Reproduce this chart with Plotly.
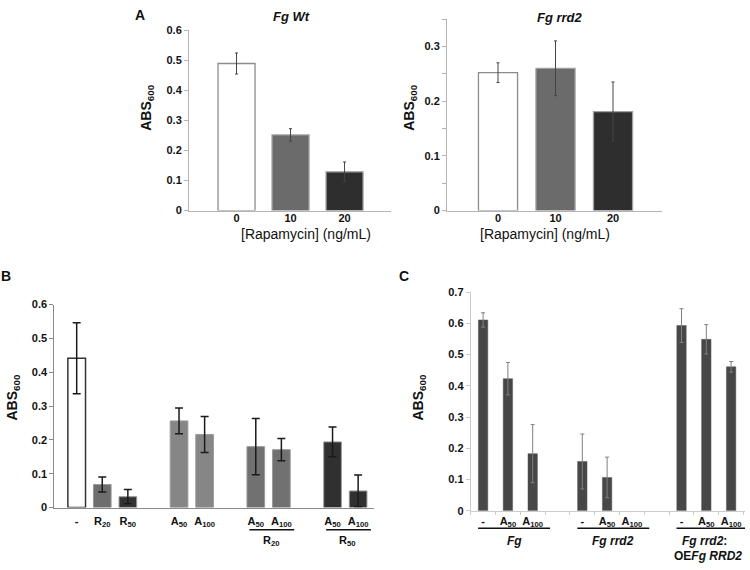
import plotly.graph_objects as go

# ---------------- data ----------------
# Panel A
a_conc = ["0", "10", "20"]
wt_vals = [0.490, 0.252, 0.129]
wt_err = [0.035, 0.021, 0.033]
rrd2_vals = [0.252, 0.260, 0.181]
rrd2_err = [0.018, 0.050, 0.054]

# Panel B
b_tick_labels = ["-", "R<sub>20</sub>", "R<sub>50</sub>",
                 "A<sub>50</sub>", "A<sub>100</sub>",
                 "A<sub>50</sub>", "A<sub>100</sub>",
                 "A<sub>50</sub>", "A<sub>100</sub>"]
b_group_sizes = [3, 2, 2, 2]
b_group_labels = ["", "", "R<sub>20</sub>", "R<sub>50</sub>"]
b_vals = [0.441, 0.068, 0.032, 0.256, 0.216, 0.180, 0.171, 0.194, 0.049]
b_err = [0.105, 0.022, 0.021, 0.038, 0.053, 0.083, 0.033, 0.044, 0.047]

# Panel C
c_tick_labels = ["-", "A<sub>50</sub>", "A<sub>100</sub>"] * 3
c_group_sizes = [3, 3, 3]
c_vals = [0.611, 0.423, 0.183, 0.158, 0.107, None, 0.593, 0.549, 0.461]
c_err = [0.023, 0.052, 0.093, 0.088, 0.065, None, 0.054, 0.047, 0.017]

# ---------------- styles ----------------
FONT = "Liberation Sans, Arial, sans-serif"
a_colors = ["#ffffff", "#6b6b6b", "#2e2e2e"]
a_line = ["#8c8c8c", "#a0a0a0", "#a0a0a0"]
b_colors = ["#ffffff", "#6e6e6e", "#333333", "#868686", "#868686",
            "#717171", "#717171", "#303030", "#303030"]
b_line = ["#333333"] + ["#9a9a9a"] * 8
b_line_w = [1.5] + [1] * 8
c_color = "#474747"


def slot_positions(sizes):
    pos, s = [], 0
    for n in sizes:
        for _ in range(n):
            pos.append(s)
            s += 1
        s += 1
    return pos


b_pos = slot_positions(b_group_sizes)
c_pos = slot_positions(c_group_sizes)

fig = go.Figure()

# Panel A left
fig.add_trace(go.Bar(
    x=list(range(len(a_conc))), y=wt_vals, width=0.685,
    marker=dict(color=a_colors, line=dict(color=a_line, width=1.3)),
    error_y=dict(type="data", array=wt_err, color="#444444", thickness=1, width=1.5),
    xaxis="x", yaxis="y"))
# Panel A right
fig.add_trace(go.Bar(
    x=list(range(len(a_conc))), y=rrd2_vals, width=0.68,
    marker=dict(color=a_colors, line=dict(color=a_line, width=1.3)),
    error_y=dict(type="data", array=rrd2_err, color="#444444", thickness=1, width=1.5),
    xaxis="x2", yaxis="y2"))
# Panel B
fig.add_trace(go.Bar(
    x=b_pos, y=b_vals, width=0.69,
    marker=dict(color=b_colors, line=dict(color=b_line, width=b_line_w)),
    error_y=dict(type="data", array=b_err, color="#1a1a1a", thickness=1.5, width=4),
    xaxis="x3", yaxis="y3"))
# Panel C
fig.add_trace(go.Bar(
    x=c_pos, y=c_vals, width=0.38,
    marker=dict(color=c_color, line=dict(color="#5a5a5a", width=0.5)),
    error_y=dict(type="data", array=c_err, color="#808080", thickness=1, width=2),
    xaxis="x4", yaxis="y4"))

W, H = 750, 570


def px_x(v):
    return v / W


def px_y(v):
    return 1 - v / H


tickfont = dict(family=FONT, size=11, color="#111111", weight="bold")

common_x = dict(showgrid=False, zeroline=False, ticks="", tickfont=tickfont,
                showline=True, fixedrange=True)
common_y = dict(showgrid=False, zeroline=False, ticks="outside", ticklen=4,
                tickfont=tickfont, showline=True, dtick=0.1, tick0=0)

fig.update_layout(
    width=W, height=H, margin=dict(l=0, r=0, t=0, b=0),
    paper_bgcolor="white", plot_bgcolor="white", showlegend=False,
    font=dict(family=FONT, color="#111111"),
    xaxis=dict(common_x, domain=[px_x(189), px_x(391)], range=[-0.88, 2.86],
               tickvals=list(range(3)), ticktext=a_conc, linecolor="#b4b4b4",
               ticklabelstandoff=-3, anchor="y"),
    yaxis=dict(common_y, domain=[px_y(209), px_y(25)], range=[0, 0.6],
               linecolor="#b4b4b4", tickcolor="#b4b4b4", anchor="x"),
    xaxis2=dict(common_x, domain=[px_x(447), px_x(662)], range=[-0.887, 2.852],
                tickvals=list(range(3)), ticktext=a_conc, linecolor="#b4b4b4",
                ticklabelstandoff=-3, anchor="y2"),
    yaxis2=dict(common_y, domain=[px_y(209), px_y(13.3)], range=[0, 0.35],
                linecolor="#b4b4b4", tickcolor="#b4b4b4", anchor="x2",
                minor=dict(dtick=0.05, tick0=0, ticks="outside", ticklen=4,
                           tickcolor="#b4b4b4")),
    xaxis3=dict(common_x, domain=[px_x(54.3), px_x(374)], range=[-0.875, 11.62],
                tickvals=b_pos, ticktext=b_tick_labels, linecolor="#8a8a8a",
                ticklabelstandoff=3, anchor="y3"),
    yaxis3=dict(common_y, domain=[px_y(512.3), px_y(305)], range=[0, 0.6],
                linecolor="#8a8a8a", tickcolor="#8a8a8a", anchor="x3"),
    xaxis4=dict(common_x, domain=[px_x(470.7), px_x(745)], range=[-0.5, 10.56],
                tickvals=c_pos, ticktext=c_tick_labels, linecolor="#cccccc",
                anchor="y4",
                minor=dict(tick0=0.5, dtick=1, ticks="outside", ticklen=3,
                           tickcolor="#cccccc")),
    yaxis4=dict(common_y, domain=[px_y(515.7), px_y(292.3)], range=[0, 0.7],
                linecolor="#cccccc", tickcolor="#cccccc", anchor="x4"),
)

ann = []


def text(x, y, s, size, **kw):
    d = dict(x=px_x(x), y=px_y(y), xref="paper", yref="paper", text=s,
             showarrow=False, font=dict(family=FONT, size=size, color="#111111"),
             xanchor="center", yanchor="middle")
    d.update(kw)
    ann.append(d)


# panel letters
text(140, 9, "<b>A</b>", 14)
text(6, 276, "<b>B</b>", 14)
text(404, 276, "<b>C</b>", 14)
# panel A titles
text(291, 11, "<b><i>Fg Wt</i></b>", 13)
text(560, 12, "<b><i>Fg rrd2</i></b>", 13)
text(306, 233, "[Rapamycin] (ng/mL)", 14)
text(545, 233, "[Rapamycin] (ng/mL)", 14)
# y titles
ylab = "<b>ABS<sub>600</sub></b>"
text(147, 104, ylab, 14, textangle=-90)
text(410, 104, ylab, 14, textangle=-90)
text(13, 400, ylab, 14, textangle=-90)
text(419, 400, ylab, 14, textangle=-90)

shapes = []


def group_spans(pos, sizes):
    spans, i = [], 0
    for n in sizes:
        spans.append((pos[i], pos[i + n - 1]))
        i += n
    return spans


# Panel B group underlines and labels
for (p0, p1), lab in zip(group_spans(b_pos, b_group_sizes), b_group_labels):
    if not lab:
        continue
    shapes.append(dict(type="line", xref="x3", yref="paper",
                       x0=p0 - 0.25, x1=p1 + 0.5, y0=px_y(535), y1=px_y(535),
                       line=dict(color="#111111", width=1.3)))
    ann.append(dict(x=(p0 + p1) / 2 + 0.1, y=px_y(546), xref="x3", yref="paper",
                    text="<b>" + lab + "</b>", showarrow=False,
                    font=dict(family=FONT, size=11, color="#111111"),
                    xanchor="center", yanchor="middle"))

# Panel C group underlines and labels
c_group_labels = ["<b><i>Fg</i></b>", "<b><i>Fg rrd2</i></b>", None]
for (p0, p1), lab in zip(group_spans(c_pos, c_group_sizes), c_group_labels):
    shapes.append(dict(type="line", xref="x4", yref="paper",
                       x0=p0 - 0.2, x1=p1 + 0.7, y0=px_y(533.5), y1=px_y(533.5),
                       line=dict(color="#111111", width=1.3)))
    if lab:
        ann.append(dict(x=(p0 + p1) / 2 + 0.25, y=px_y(546), xref="x4", yref="paper",
                        text=lab, showarrow=False,
                        font=dict(family=FONT, size=12, color="#111111"),
                        xanchor="center", yanchor="middle"))
text(680, 546, "<b><i>Fg rrd2</i>:</b>", 12, xanchor="left")
text(672, 561.5, "<b>OE<i>Fg RRD2</i></b>", 12, xanchor="left")

fig.update_layout(annotations=ann, shapes=shapes)
fig.write_html(
    "out.html",
    config={"displayModeBar": False},
    post_script="document.body.style.margin='0';document.body.style.overflow='hidden';",
)
